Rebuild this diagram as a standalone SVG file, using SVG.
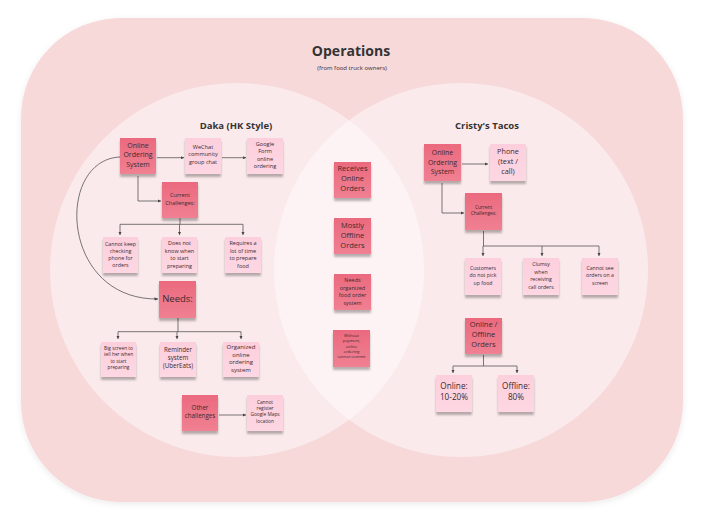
<svg xmlns="http://www.w3.org/2000/svg" width="703" height="527" viewBox="0 0 703 527">
<style>
text{font-family:"Open Sans","Noto Sans","Liberation Sans",sans-serif;fill:#3b2a2e;text-anchor:middle}
.title{font-weight:700;fill:#333}
.dark{fill:url(#gd)}
.light{fill:url(#gl)}
.st{filter:url(#sh)}
.c{fill:none;stroke:#555;stroke-width:0.8}
.a{marker-end:url(#ah)}
</style>
<defs>
<linearGradient id="gd" x1="0" y1="0" x2="0" y2="1"><stop offset="0" stop-color="#eb6a7e"/><stop offset="1" stop-color="#f08092"/></linearGradient>
<linearGradient id="gl" x1="0" y1="0" x2="0" y2="1"><stop offset="0" stop-color="#fdcfdd"/><stop offset="1" stop-color="#fdd7e3"/></linearGradient>
<filter id="sh" x="-20%" y="-20%" width="140%" height="150%"><feDropShadow dx="0" dy="3" stdDeviation="1.3" flood-color="#000" flood-opacity="0.28"/></filter>
<filter id="osh" x="-5%" y="-5%" width="110%" height="110%"><feDropShadow dx="0" dy="2" stdDeviation="3" flood-color="#000" flood-opacity="0.08"/></filter>
<marker id="ah" viewBox="0 0 6 6" refX="6" refY="3" markerWidth="3.5" markerHeight="3.5" markerUnits="userSpaceOnUse" orient="auto"><path d="M0,0 L6,3 L0,6 z" fill="#444"/></marker>
</defs>
<rect width="703" height="527" fill="#fff"/>
<g id="frame">
<rect x="21" y="18" width="662" height="484" rx="100" ry="100" fill="#f7d9da" filter="url(#osh)"/>
<circle cx="237" cy="270" r="187" fill="#fff" fill-opacity="0.45"/>
<circle cx="461" cy="270" r="187" fill="#fff" fill-opacity="0.45"/>
<text class="title" x="351" y="56" font-size="14">Operations</text>
<text x="352" y="70" font-size="6">(from food truck owners)</text>
<text class="title" x="236" y="128.5" font-size="9.5">Daka (HK Style)</text>
<text class="title" x="487" y="128.5" font-size="9.5">Cristy's Tacos</text>
</g>
<g id="connectors">
<path class="c a" d="M157,157.7 H184"/>
<path class="c a" d="M222,157.7 H246"/>
<path class="c a" d="M138,176 V201 H161"/>
<path class="c" d="M180,218 V224.3 M120,224.3 H243"/>
<path class="c a" d="M120,224.3 V235"/>
<path class="c a" d="M179.5,224.3 V235"/>
<path class="c a" d="M243,224.3 V235"/>
<path class="c a" d="M120,157 C55,160 60,300 158,299"/>
<path class="c" d="M178,318 V331.7 M118,331.7 H241"/>
<path class="c a" d="M118,331.7 V339"/>
<path class="c a" d="M177,331.7 V339"/>
<path class="c a" d="M241,331.7 V339"/>
<path class="c a" d="M219,415 H246"/>
<path class="c a" d="M462,164 H488"/>
<path class="c a" d="M442,183 V213 H464"/>
<path class="c" d="M483.5,231 V246 M483,246 H599"/>
<path class="c a" d="M483,246 V256"/>
<path class="c a" d="M542,246 V256"/>
<path class="c a" d="M599,246 V256"/>
<path class="c" d="M483.5,355 V366 M453,366 H517"/>
<path class="c a" d="M453,366 V373"/>
<path class="c a" d="M517,366 V373"/>
</g>
<g id="daka-oos"><rect class="dark st" x="120" y="138" width="36" height="36"/><text font-size="7" x="138"><tspan x="138" y="147.5">Online</tspan><tspan x="138" y="157">Ordering</tspan><tspan x="138" y="166.5">System</tspan></text></g>
<g id="daka-wechat"><rect class="light st" x="185" y="138" width="36" height="36"/><text font-size="5.6"><tspan x="203" y="148.7">WeChat</tspan><tspan x="203" y="156.3">community</tspan><tspan x="203" y="164">group chat</tspan></text></g>
<g id="daka-google"><rect class="light st" x="247" y="138" width="36" height="36"/><text font-size="5.6"><tspan x="265" y="145.7">Google</tspan><tspan x="265" y="153">Form</tspan><tspan x="265" y="160.7">online</tspan><tspan x="265" y="168">ordering</tspan></text></g>
<g id="daka-challenges"><rect class="dark st" x="162" y="182" width="36" height="36"/><text font-size="5.5"><tspan x="180" y="197.3">Current</tspan><tspan x="180" y="205.3">Challenges:</tspan></text></g>
<g id="daka-c1"><rect class="light st" x="103" y="237" width="35" height="36"/><text font-size="5.3"><tspan x="120.5" y="246">Cannot keep</tspan><tspan x="120.5" y="253">checking</tspan><tspan x="120.5" y="260">phone for</tspan><tspan x="120.5" y="267">orders</tspan></text></g>
<g id="daka-c2"><rect class="light st" x="162" y="237" width="35" height="36"/><text font-size="5.5"><tspan x="179.5" y="245.3">Does not</tspan><tspan x="179.5" y="252.7">know when</tspan><tspan x="179.5" y="260.3">to start</tspan><tspan x="179.5" y="267.7">preparing</tspan></text></g>
<g id="daka-c3"><rect class="light st" x="225" y="237" width="36" height="36"/><text font-size="5.5"><tspan x="243" y="245.3">Requires a</tspan><tspan x="243" y="252.7">lot of time</tspan><tspan x="243" y="260.3">to prepare</tspan><tspan x="243" y="267.7">food</tspan></text></g>
<g id="daka-needs"><rect class="dark st" x="159" y="281" width="37" height="37"/><text font-size="9.5" x="177.5" y="301.5">Needs:</text></g>
<g id="daka-n1"><rect class="light st" x="101" y="342" width="35" height="35"/><text font-size="4.8"><tspan x="118.5" y="350">Big screen to</tspan><tspan x="118.5" y="356.4">tell her when</tspan><tspan x="118.5" y="363">to start</tspan><tspan x="118.5" y="369.4">preparing</tspan></text></g>
<g id="daka-n2"><rect class="light st" x="160" y="342" width="36" height="35"/><text font-size="6.2"><tspan x="178" y="352.2">Reminder</tspan><tspan x="178" y="359.9">system</tspan><tspan x="178" y="367.5">(UberEats)</tspan></text></g>
<g id="daka-n3"><rect class="light st" x="223" y="342" width="36" height="35"/><text font-size="6"><tspan x="241" y="348.9">Organized</tspan><tspan x="241" y="356.5">online</tspan><tspan x="241" y="364.2">ordering</tspan><tspan x="241" y="371.5">system</tspan></text></g>
<g id="daka-other"><rect class="dark st" x="182" y="395" width="36" height="36"/><text font-size="6.2"><tspan x="200" y="410">Other</tspan><tspan x="200" y="418">challenges</tspan></text></g>
<g id="daka-maps"><rect class="light st" x="247" y="395" width="36" height="36"/><text font-size="4.8"><tspan x="265" y="403.7">Cannot</tspan><tspan x="265" y="410">register</tspan><tspan x="265" y="416.4">Google Maps</tspan><tspan x="265" y="422.7">location</tspan></text></g>
<g id="both-online"><rect class="dark st" x="334" y="162" width="37" height="36"/><text font-size="7.5"><tspan x="352.5" y="171">Receives</tspan><tspan x="352.5" y="181">Online</tspan><tspan x="352.5" y="191">Orders</tspan></text></g>
<g id="both-offline"><rect class="dark st" x="334" y="218" width="37" height="36"/><text font-size="7.5"><tspan x="352.5" y="227.5">Mostly</tspan><tspan x="352.5" y="237.5">Offline</tspan><tspan x="352.5" y="247.5">Orders</tspan></text></g>
<g id="both-needs"><rect class="dark st" x="334" y="274" width="37" height="36"/><text font-size="5.5"><tspan x="352.5" y="282">Needs</tspan><tspan x="352.5" y="289.7">organized</tspan><tspan x="352.5" y="297">food order</tspan><tspan x="352.5" y="304.7">system</tspan></text></g>
<g id="both-payment"><rect class="dark st" x="333" y="330" width="37" height="37"/><text font-size="4"><tspan x="351.5" y="337.1">Without</tspan><tspan x="351.5" y="342.4">payment,</tspan><tspan x="351.5" y="347.7">online</tspan><tspan x="351.5" y="353.1">ordering</tspan><tspan x="351.5" y="358.4">cannot commit</tspan></text></g>
<g id="cristy-oos"><rect class="dark st" x="424" y="144" width="37" height="37"/><text font-size="7"><tspan x="442.5" y="154.8">Online</tspan><tspan x="442.5" y="164.5">Ordering</tspan><tspan x="442.5" y="173.8">System</tspan></text></g>
<g id="cristy-phone"><rect class="light st" x="490" y="144" width="36" height="37"/><text font-size="7.3"><tspan x="508" y="154.3">Phone</tspan><tspan x="508" y="164.3">(text /</tspan><tspan x="508" y="173.9">call)</tspan></text></g>
<g id="cristy-challenges"><rect class="dark st" x="465" y="193" width="37" height="37"/><text font-size="4.8"><tspan x="483.5" y="208.7">Current</tspan><tspan x="483.5" y="215.4">Challenges:</tspan></text></g>
<g id="cristy-c1"><rect class="light st" x="465" y="258" width="36" height="37"/><text font-size="5.2"><tspan x="483" y="269.9">Customers</tspan><tspan x="483" y="277.2">do not pick</tspan><tspan x="483" y="284.9">up food</tspan></text></g>
<g id="cristy-c2"><rect class="light st" x="523" y="258" width="36" height="37"/><text font-size="5.2"><tspan x="541" y="265.9">Clumsy</tspan><tspan x="541" y="273.6">when</tspan><tspan x="541" y="281.2">receiving</tspan><tspan x="541" y="288.6">call orders</tspan></text></g>
<g id="cristy-c3"><rect class="light st" x="582" y="258" width="36" height="37"/><text font-size="5.2"><tspan x="600" y="269.9">Cannot see</tspan><tspan x="600" y="277.2">orders on a</tspan><tspan x="600" y="284.9">screen</tspan></text></g>
<g id="cristy-orders"><rect class="dark st" x="465" y="318" width="37" height="36"/><text font-size="7.5"><tspan x="483.5" y="327.4">Online /</tspan><tspan x="483.5" y="337.4">Offline</tspan><tspan x="483.5" y="347.4">Orders</tspan></text></g>
<g id="cristy-online"><rect class="light st" x="436" y="375" width="36" height="37"/><text font-size="8.2"><tspan x="454" y="388.8">Online:</tspan><tspan x="454" y="400.4">10-20%</tspan></text></g>
<g id="cristy-offline"><rect class="light st" x="498" y="375" width="36" height="37"/><text font-size="8.2"><tspan x="516" y="388.8">Offline:</tspan><tspan x="516" y="400.4">80%</tspan></text></g>
</svg>
